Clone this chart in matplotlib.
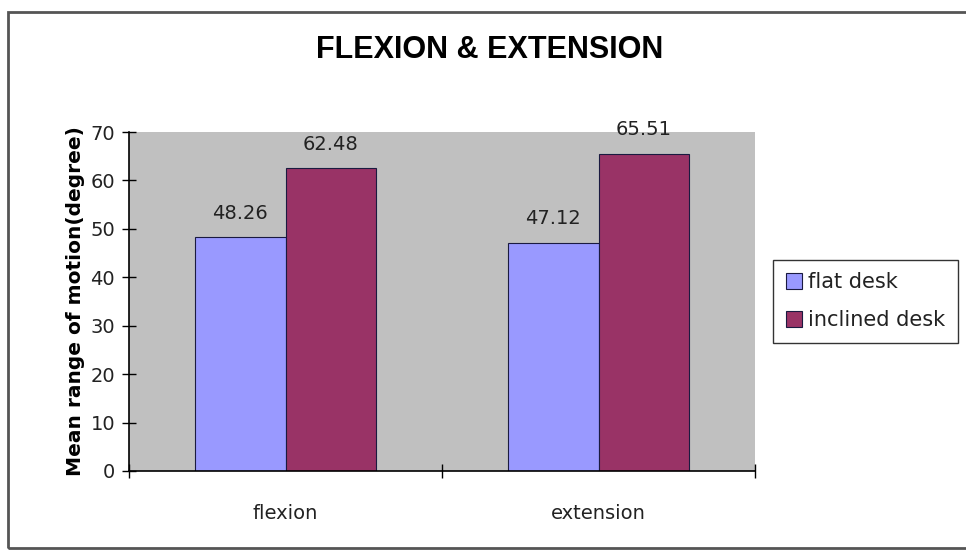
import matplotlib.pyplot as plt
import matplotlib.patches as mpatches
import numpy as np

categories = ["flexion", "extension"]
series_names = ["flat desk", "inclined desk"]
flat_desk = [48.26, 47.12]
inclined_desk = [62.48, 65.51]
colors = ["#9999FF", "#993366"]

plt.rcParams["font.family"] = ["DejaVu Sans"]

fig = plt.figure(figsize=(9.66, 5.52), dpi=100)
fig.patch.set_facecolor("white")

# outer chart border
fig.add_artist(mpatches.Rectangle((8 / 966, 4 / 552), 1.2, 536 / 552,
                                  transform=fig.transFigure, fill=False,
                                  edgecolor="#555555", linewidth=2.0))

ax = fig.add_axes([129 / 966, 1 - 471 / 552, 626 / 966, 339 / 552])
ax.set_facecolor("#C0C0C0")

x = np.arange(len(categories))
w = 0.29
for i, (vals, name) in enumerate(zip([flat_desk, inclined_desk], series_names)):
    pos = x + (i - 0.5) * w
    ax.bar(pos, vals, w, color=colors[i], edgecolor="#1a1a40",
           linewidth=0.8, label=name, zorder=2)
    for p, v in zip(pos, vals):
        ax.text(p, v + 3.0, f"{v:.2f}", ha="center", va="bottom", fontsize=14,
                color="#222222")

ax.set_xlim(-0.5, 1.5)
ax.set_ylim(0, 70)
ax.set_yticks(range(0, 71, 10))
ax.set_xticks([-0.5, 0.5, 1.5])
ax.set_xticklabels([])
ax.set_xticks(x, minor=True)
ax.set_xticklabels(categories, minor=True, fontsize=14, color="#222222")
ax.tick_params(axis="x", which="minor", length=0, pad=24)
ax.tick_params(axis="x", which="major", direction="inout", length=10, width=1)
ax.tick_params(axis="y", direction="inout", length=10, width=1, labelsize=14,
               pad=5, labelcolor="#222222")
for s in ["top", "right"]:
    ax.spines[s].set_visible(False)
ax.spines["left"].set_linewidth(1.2)
ax.spines["bottom"].set_linewidth(1.2)

ax.set_ylabel("Mean range of motion(degree)", fontsize=14.5, fontweight="bold",
              labelpad=4)

fig.text(490 / 966, 1 - 50 / 552, "FLEXION & EXTENSION", ha="center",
         va="center", fontsize=22, fontweight="bold",
         family=["Liberation Sans", "DejaVu Sans"])

leg = fig.legend(loc="upper left", bbox_to_anchor=(773 / 966, 1 - 260 / 552),
                 frameon=True, fancybox=False, edgecolor="black", fontsize=15,
                 handlelength=0.8, handleheight=0.8, handletextpad=0.3,
                 borderpad=0.6, labelspacing=0.85, borderaxespad=0)
leg.get_frame().set_linewidth(1.0)
for t in leg.get_texts():
    t.set_color("#222222")

fig.savefig("out.png", dpi=100)
